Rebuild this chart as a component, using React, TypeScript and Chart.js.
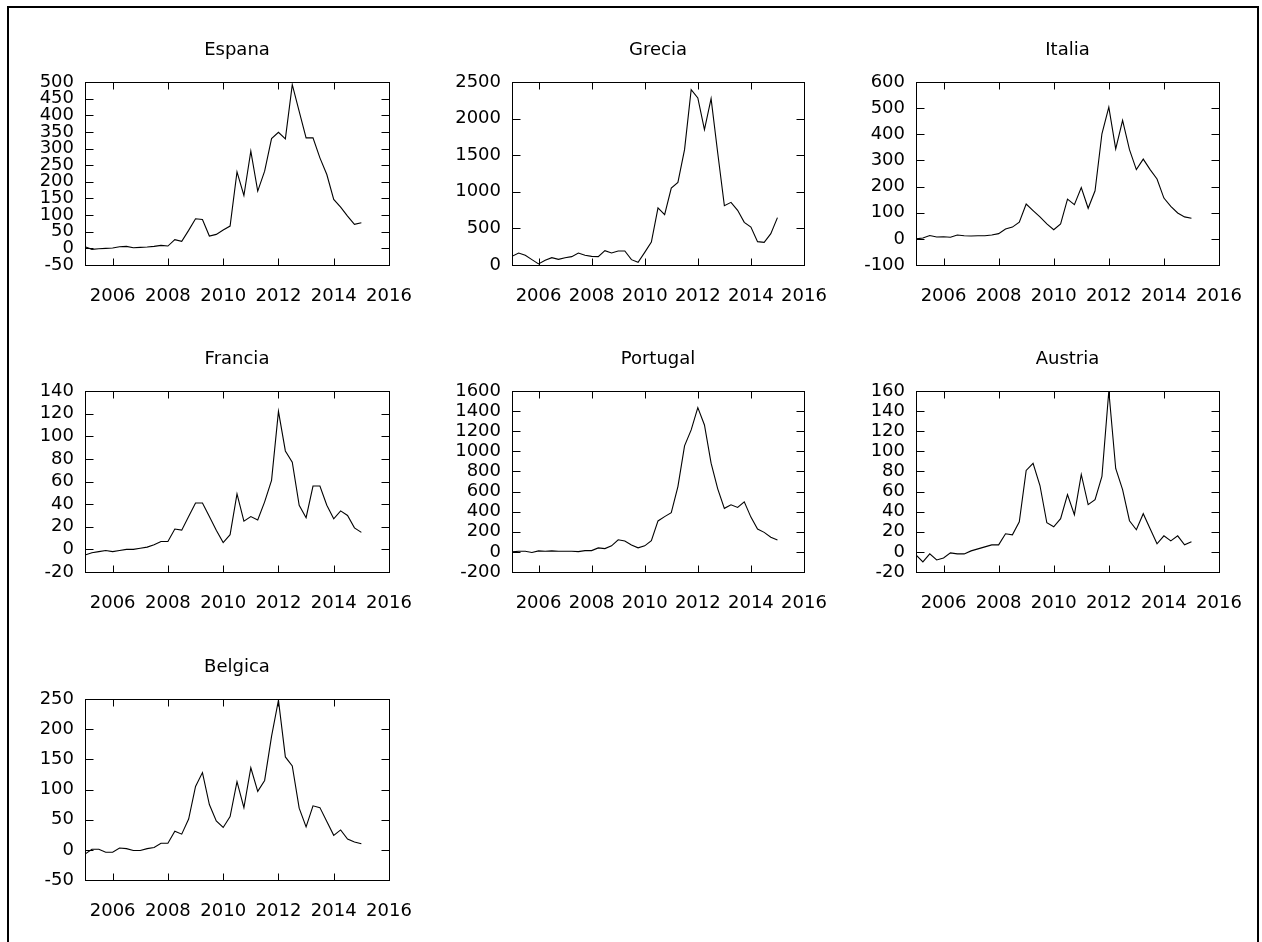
import React, { useEffect, useRef } from 'react';
import { Chart, registerables } from 'chart.js';

Chart.register(...registerables);

// ---------- data ----------
const quarters = [
  2005.0, 2005.25, 2005.5, 2005.75, 2006.0, 2006.25, 2006.5, 2006.75,
  2007.0, 2007.25, 2007.5, 2007.75, 2008.0, 2008.25, 2008.5, 2008.75,
  2009.0, 2009.25, 2009.5, 2009.75, 2010.0, 2010.25, 2010.5, 2010.75,
  2011.0, 2011.25, 2011.5, 2011.75, 2012.0, 2012.25, 2012.5, 2012.75,
  2013.0, 2013.25, 2013.5, 2013.75, 2014.0, 2014.25, 2014.5, 2014.75,
  2015.0,
];

const xTicks = [2006, 2008, 2010, 2012, 2014, 2016];
const xMin = 2005;
const xMax = 2016;

const espana = [
  5, -3, -1, 0, 1, 5, 6, 2, 3, 4, 6, 9, 7, 26, 21, 54, 89, 87, 37, 42,
  55, 67, 230, 159, 292, 172, 232, 330, 349, 329, 492, 412, 332, 332, 272, 222,
  147, 124, 97, 72, 77,
];
const grecia = [
  118, 164, 132, 73, 14, 64, 100, 77, 100, 114, 164, 132, 118, 114, 196, 164,
  191, 191, 73, 36, 173, 314, 779, 688, 1052, 1129, 1576, 2395, 2282, 1849, 2272, 1530,
  811, 856, 747, 583, 519, 319, 310, 428, 647,
];
const italia = [
  0, 3, 13, 7, 8, 6, 15, 12, 11, 12, 12, 15, 20, 38, 45, 64, 133, 108, 84, 57,
  35, 57, 152, 131, 196, 117, 184, 402, 504, 344, 453, 341, 265, 305, 265, 229,
  156, 124, 99, 84, 79,
];
const francia = [
  -5, -3, -2, -1, -2, -1, 0, 0, 1, 2, 4, 7, 7, 18, 17, 29, 41, 41, 29, 17,
  6, 13, 49, 25, 29, 26, 42, 61, 122, 87, 77, 39, 28, 56, 56, 39,
  27, 34, 30, 19, 15,
];
const portugal = [
  0, 6, 6, -6, 10, 6, 10, 6, 6, 6, 3, 13, 13, 40, 33, 60, 121, 108, 69, 40,
  60, 112, 308, 351, 390, 650, 1054, 1213, 1435, 1262, 882, 627, 433, 468, 442, 498,
  346, 227, 194, 146, 119,
];
const austria = [
  -3, -10, -2, -8, -6, -1, -2, -2, 1, 3, 5, 7, 7, 18, 17, 30, 81, 88, 66, 29,
  25, 33, 57, 37, 77, 47, 52, 75, 160, 83, 62, 31, 22, 38, 23, 8,
  16, 11, 16, 7, 10,
];
const belgica = [
  -7, 1, 1, -4, -4, 3, 2, -1, -1, 2, 4, 11, 11, 31, 26, 51, 105, 128, 75, 48,
  37, 55, 113, 70, 136, 97, 115, 188, 248, 154, 139, 69, 38, 73, 70, 47,
  24, 33, 18, 13, 10,
];

const espanaTicks = [-50, 0, 50, 100, 150, 200, 250, 300, 350, 400, 450, 500];
const greciaTicks = [0, 500, 1000, 1500, 2000, 2500];
const italiaTicks = [-100, 0, 100, 200, 300, 400, 500, 600];
const franciaTicks = [-20, 0, 20, 40, 60, 80, 100, 120, 140];
const portugalTicks = [-200, 0, 200, 400, 600, 800, 1000, 1200, 1400, 1600];
const austriaTicks = [-20, 0, 20, 40, 60, 80, 100, 120, 140, 160];
const belgicaTicks = [-50, 0, 50, 100, 150, 200, 250];

// ---------- layout (plot-area edges on the page) ----------
const colLeft = [85, 512, 916];
const colRight = [389, 804, 1219];
const rowTop = [82, 391, 699];
const rowBottom = [265, 572, 880];

const panels = [
  { title: 'Espana', data: espana, ticks: espanaTicks, col: 0, row: 0 },
  { title: 'Grecia', data: grecia, ticks: greciaTicks, col: 1, row: 0 },
  { title: 'Italia', data: italia, ticks: italiaTicks, col: 2, row: 0 },
  { title: 'Francia', data: francia, ticks: franciaTicks, col: 0, row: 1 },
  { title: 'Portugal', data: portugal, ticks: portugalTicks, col: 1, row: 1 },
  { title: 'Austria', data: austria, ticks: austriaTicks, col: 2, row: 1 },
  { title: 'Belgica', data: belgica, ticks: belgicaTicks, col: 0, row: 2 },
];

const FONT = 'DejaVu Sans';
const Y_AXIS_W = 80;
const X_AXIS_H = 50;
const TITLE_H = 50;
const RIGHT_PAD = 80;
const TITLE_PAD_TOP = 8;

const gnuFrame = {
  id: 'gnuFrame',
  afterDatasetsDraw(chart: any) {
    const { ctx, chartArea: a, scales } = chart;
    const l = Math.round(a.left) + 0.5;
    const r = Math.round(a.right) + 0.5;
    const t = Math.round(a.top) + 0.5;
    const b = Math.round(a.bottom) + 0.5;
    ctx.save();
    ctx.strokeStyle = '#000';
    ctx.lineWidth = 1;
    ctx.beginPath();
    const xs = scales.x;
    xs.ticks.forEach((tk: any) => {
      const px = Math.round(xs.getPixelForValue(tk.value)) + 0.5;
      ctx.moveTo(px, b);
      ctx.lineTo(px, b - 7);
      ctx.moveTo(px, t);
      ctx.lineTo(px, t + 7);
    });
    const ys = scales.y;
    ys.ticks.forEach((tk: any) => {
      const py = Math.round(ys.getPixelForValue(tk.value)) + 0.5;
      ctx.moveTo(l, py);
      ctx.lineTo(l + 8, py);
      ctx.moveTo(r, py);
      ctx.lineTo(r - 8, py);
    });
    ctx.stroke();
    ctx.strokeRect(l, t, r - l, b - t);
    ctx.restore();
  },
};

function Panel({ p }: { p: any }) {
  const ref = useRef<HTMLCanvasElement>(null);
  const L = colLeft[p.col];
  const R = colRight[p.col];
  const T = rowTop[p.row];
  const B = rowBottom[p.row];
  const width = R - L + Y_AXIS_W + RIGHT_PAD;
  const height = B - T + TITLE_H + X_AXIS_H;

  useEffect(() => {
    if (!ref.current) return;
    const yTicks: number[] = p.ticks;
    const chart = new Chart(ref.current, {
      type: 'line',
      data: {
        datasets: [
          {
            data: quarters.map((q, i) => ({ x: q, y: p.data[i] })),
            borderColor: '#000',
            borderWidth: 1.1,
            pointRadius: 0,
            tension: 0,
            fill: false,
          },
        ],
      },
      options: {
        responsive: false,
        animation: false,
        devicePixelRatio: 1,
        events: [],
        layout: { padding: { left: 0, right: RIGHT_PAD, top: 0, bottom: 0 } },
        plugins: {
          legend: { display: false },
          tooltip: { enabled: false },
          title: {
            display: true,
            fullSize: false,
            text: p.title,
            color: '#000',
            font: { family: FONT, size: 18, weight: 'normal', lineHeight: 1.2 },
            padding: { top: TITLE_PAD_TOP, bottom: TITLE_H - TITLE_PAD_TOP - 21.6 },
          },
        },
        scales: {
          x: {
            type: 'linear',
            min: xMin,
            max: xMax,
            grid: { display: false, drawTicks: false },
            border: { display: false },
            afterBuildTicks: (s: any) => {
              s.ticks = xTicks.map((v) => ({ value: v }));
            },
            afterFit: (s: any) => {
              s.height = X_AXIS_H;
            },
            ticks: {
              color: '#000',
              font: { family: FONT, size: 18 },
              padding: 21,
              autoSkip: false,
              maxRotation: 0,
              minRotation: 0,
              callback: (v: any) => String(v),
            },
          },
          y: {
            type: 'linear',
            min: yTicks[0],
            max: yTicks[yTicks.length - 1],
            grid: { display: false, drawTicks: false },
            border: { display: false },
            afterBuildTicks: (s: any) => {
              s.ticks = yTicks.map((v) => ({ value: v }));
            },
            afterFit: (s: any) => {
              s.width = Y_AXIS_W;
            },
            ticks: {
              color: '#000',
              font: { family: FONT, size: 18 },
              padding: 11,
              autoSkip: false,
              callback: (v: any) => String(v),
            },
          },
        },
      },
      plugins: [gnuFrame],
    } as any);
    return () => chart.destroy();
  }, []);

  return (
    <canvas
      ref={ref}
      width={width}
      height={height}
      style={{
        position: 'absolute',
        left: L - Y_AXIS_W,
        top: T - TITLE_H,
        width,
        height,
        display: 'block',
      }}
    />
  );
}

export default function App() {
  return (
    <div
      style={{
        position: 'absolute',
        left: 0,
        top: 0,
        width: 1262,
        height: 942,
        overflow: 'hidden',
        background: '#fff',
      }}
    >
      <div
        style={{
          position: 'absolute',
          left: 7,
          top: 6,
          width: 1248,
          height: 1000,
          border: '2px solid #000',
        }}
      />
      {panels.map((p) => (
        <Panel key={p.title} p={p} />
      ))}
    </div>
  );
}
